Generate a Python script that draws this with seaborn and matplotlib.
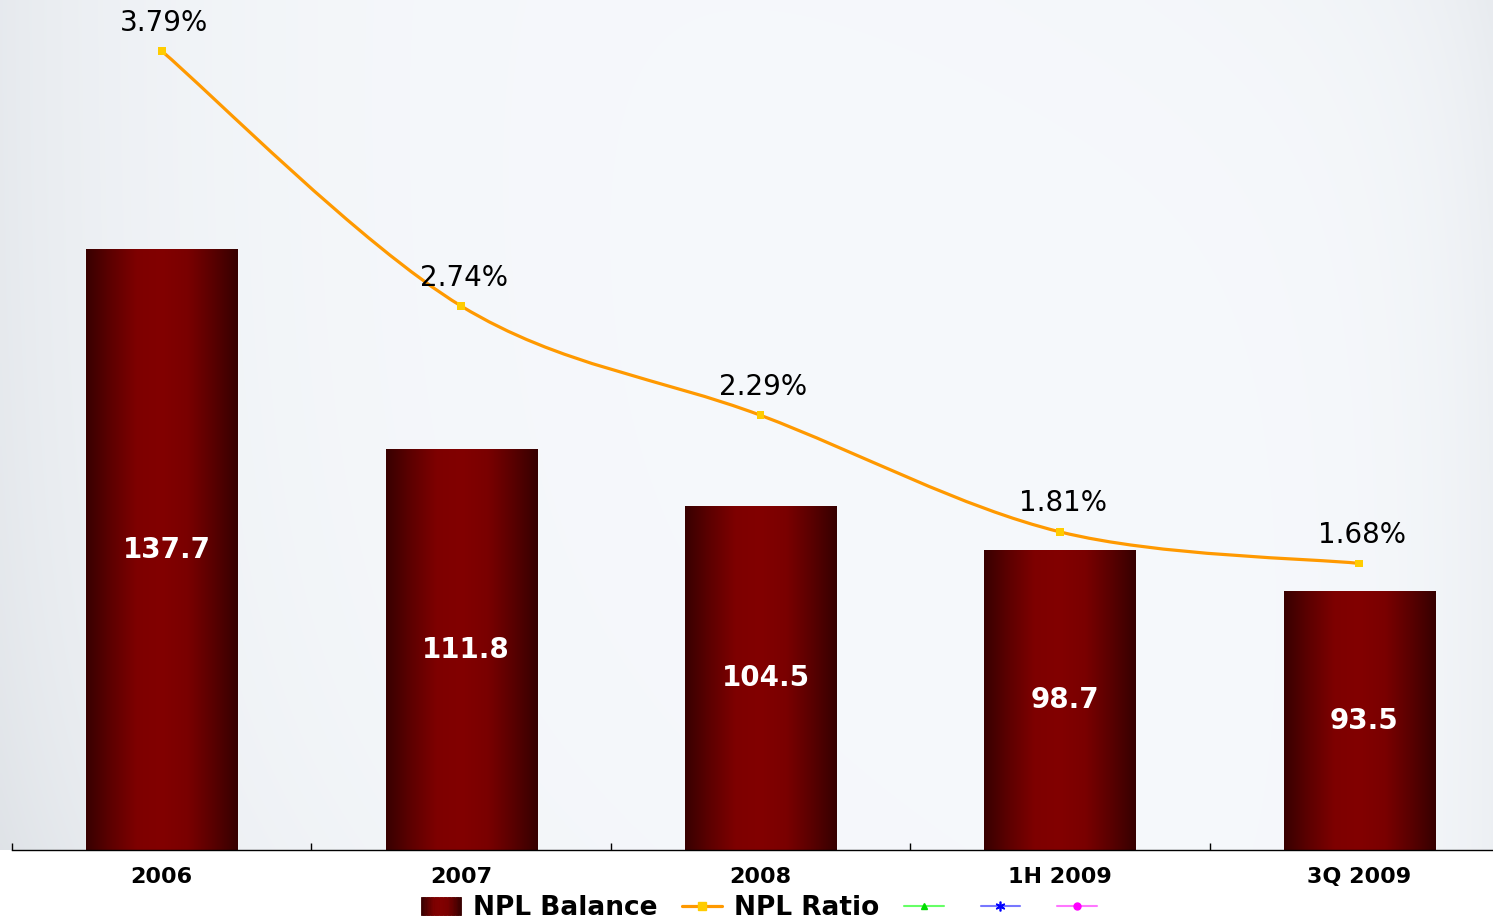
import numpy as np
import matplotlib
matplotlib.use("Agg")
import matplotlib.pyplot as plt
import seaborn as sns
from matplotlib.path import Path
from matplotlib.patches import PathPatch, Rectangle
from matplotlib.lines import Line2D
from matplotlib.legend_handler import HandlerBase
from matplotlib.colors import LinearSegmentedColormap

# ---- data -------------------------------------------------------------
periods = ["2006", "2007", "2008", "1H 2009", "3Q 2009"]
npl_balance = [137.7, 111.8, 104.5, 98.7, 93.5]
npl_ratio = [3.79, 2.74, 2.29, 1.81, 1.68]
ratio_labels = ["3.79%", "2.74%", "2.29%", "1.81%", "1.68%"]
legend_labels = ["NPL Balance", "NPL Ratio", "", "", ""]

# ---- style ------------------------------------------------------------
sns.set_theme(style="white")
plt.rcParams["font.family"] = ["DejaVu Sans"]
plt.rcParams["text.color"] = "black"

W, H = 1493, 923
fig = plt.figure(figsize=(W / 100, H / 100), dpi=100)
fig.patch.set_facecolor("white")

BAL_MIN, BAL_MAX = 60, 170
RAT_MIN, RAT_MAX = 0.5, 4.0

bar_cmap = LinearSegmentedColormap.from_list(
    "bar", ["#380000", "#5e0000", "#7e0000", "#820000", "#7a0000", "#5a0000", "#360000"])

# soft grey-blue backdrop behind the plotting area
bg = fig.add_axes([0, 73 / H, 1, 850 / H], zorder=0)
nx, ny = 400, 200
gx, gy = np.meshgrid(np.linspace(0, 1, nx), np.linspace(0, 1, ny))
dark = (0.06 * np.exp(-gx / 0.12)
        + 0.035 * np.exp(-(1 - gx) / 0.05)
        + 0.03 * np.exp(-((gx) + (1 - gy)) / 0.25)
        + 0.02 * np.exp(-((1 - gx) + gy) / 0.2))
base = np.array([0.965, 0.975, 0.988])
tint = np.array([1.0, 0.95, 0.9])
img = np.clip(base[None, None, :] - dark[..., None] * tint[None, None, :], 0, 1)
bg.imshow(img, origin="upper", aspect="auto", extent=[0, 1, 0, 1], interpolation="bilinear")
bg.set_axis_off()

# ---- bars -------------------------------------------------------------
ax = fig.add_axes([12 / W, 73 / H, 1497 / W, 850 / H], zorder=2)
ax.patch.set_alpha(0)
sns.barplot(x=periods, y=npl_balance, ax=ax, color="#7a0000", width=0.505,
            saturation=1, zorder=2)
ax.set_xlim(-0.5, len(periods) - 0.5)
ax.set_ylim(BAL_MIN, BAL_MAX)

# horizontal dark-red-dark shading on every bar, limited to the visible part
xs_grad = np.linspace(0, 1, 256)[None, :]
for p in ax.patches:
    x0, w = p.get_x(), p.get_width()
    top = p.get_y() + p.get_height()
    ax.imshow(xs_grad, cmap=bar_cmap, aspect="auto",
              extent=[x0, x0 + w, BAL_MIN, top],
              zorder=2.2, interpolation="bilinear")
ax.set_xlim(-0.5, len(periods) - 0.5)
ax.set_ylim(BAL_MIN, BAL_MAX)

for p, v in zip(ax.patches, npl_balance):
    ax.annotate(f"{v}", (p.get_x() + p.get_width() / 2, (BAL_MIN + v) / 2),
                xytext=(3.6, 0), textcoords="offset points",
                ha="center", va="center", color="white",
                fontsize=20, fontweight="bold", zorder=5)

for side in ("top", "left", "right"):
    ax.spines[side].set_visible(False)
ax.spines["bottom"].set_color("black")
ax.spines["bottom"].set_linewidth(1)
ax.spines["bottom"].set_zorder(6)
ax.set_yticks([])
ax.set_xlabel("")
ax.set_ylabel("")
ax.set_xticks(range(len(periods)))
ax.set_xticklabels(periods, fontsize=16, fontweight="bold", color="black")
ax.set_xticks(np.arange(-0.5, len(periods)), minor=True)
ax.tick_params(axis="x", which="major", length=0, pad=12.5, bottom=True)
ax.tick_params(axis="x", which="minor", direction="in", length=5, width=1,
               color="black", bottom=True)

# ---- ratio line (secondary axis) --------------------------------------
ax2 = ax.twinx()
ax2.set_zorder(3)
ax2.patch.set_alpha(0)
xs = np.arange(len(npl_ratio), dtype=float)
pts = np.column_stack([xs, npl_ratio])
n = len(pts)
verts = [tuple(pts[0])]
codes = [Path.MOVETO]
for i in range(n - 1):
    p0 = pts[max(i - 1, 0)]
    p1 = pts[i]
    p2 = pts[i + 1]
    p3 = pts[min(i + 2, n - 1)]
    c1 = p1 + (p2 - p0) / 6
    c2 = p2 - (p3 - p1) / 6
    verts += [tuple(c1), tuple(c2), tuple(p2)]
    codes += [Path.CURVE4] * 3
ax2.add_patch(PathPatch(Path(verts, codes), fill=False, edgecolor="#ff9900",
                        lw=2.3, zorder=3, capstyle="round", joinstyle="round"))
sns.scatterplot(x=xs, y=npl_ratio, ax=ax2, marker="s", s=30, color="#ffcc00",
                edgecolor="none", zorder=4, legend=False)
for x, y, lab in zip(xs, npl_ratio, ratio_labels):
    ax2.annotate(lab, (x, y), xytext=(2, 20.5), textcoords="offset points",
                 ha="center", va="center", fontsize=20, color="black", zorder=5)
ax2.set_ylim(RAT_MIN, RAT_MAX)
ax2.set_xlim(-0.5, len(periods) - 0.5)
ax2.set_yticks([])
ax2.set_xlabel("")
ax2.set_ylabel("")
for s in ax2.spines.values():
    s.set_visible(False)


# ---- legend -----------------------------------------------------------
class GradientHandler(HandlerBase):
    def create_artists(self, legend, orig_handle, xdescent, ydescent,
                       width, height, fontsize, trans):
        k = 30
        out = []
        for i in range(k):
            c = bar_cmap((i + 0.5) / k)
            out.append(Rectangle((-xdescent + i * width / k, -ydescent),
                                 width / k, height, facecolor=c,
                                 edgecolor=c, linewidth=0.6, transform=trans))
        return out


bar_proxy = Rectangle((0, 0), 1, 1)
handles = [
    bar_proxy,
    Line2D([], [], color="#ff9900", lw=2.3, marker="s", markersize=5.5,
           markerfacecolor="#ffcc00", markeredgecolor="#ffcc00"),
    Line2D([], [], color="#66ff66", lw=1.5, marker="^", markersize=5,
           markerfacecolor="#00dd00", markeredgecolor="#00dd00"),
    Line2D([], [], color="#7777ff", lw=1.5, marker=(6, 2, 0), markersize=7,
           markerfacecolor="#0000ff", markeredgecolor="#0000ff", markeredgewidth=1.2),
    Line2D([], [], color="#ff77ff", lw=1.5, marker="o", markersize=5,
           markerfacecolor="#ff00ff", markeredgecolor="#ff00ff"),
]
leg = fig.legend(handles, legend_labels, loc="center",
                 bbox_to_anchor=(765 / W, 15 / H), ncol=5, frameon=False,
                 prop=dict(weight="bold", size=19), handlelength=1.5,
                 handletextpad=0.45, columnspacing=0.95, borderaxespad=0,
                 borderpad=0, handler_map={bar_proxy: GradientHandler()})
for t in leg.get_texts():
    t.set_color("black")

fig.savefig("out.png", dpi=100)
